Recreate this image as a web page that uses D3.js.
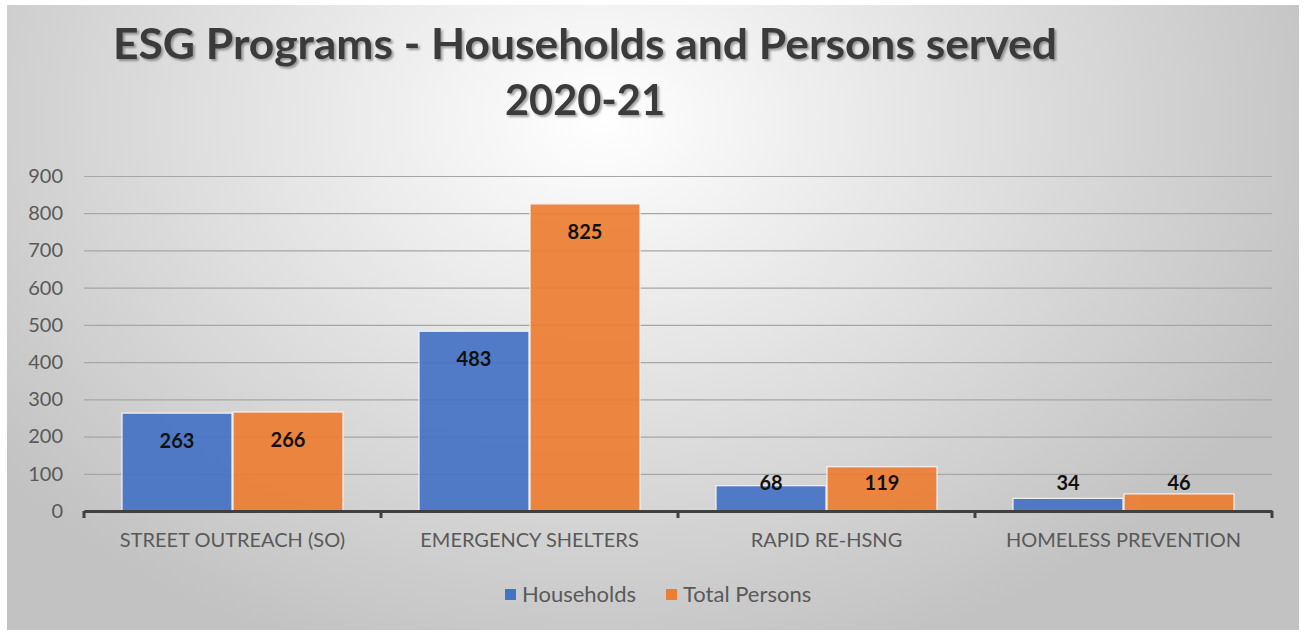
<!DOCTYPE html>
<html>
<head>
<meta charset="utf-8">
<script src="https://cdn.jsdelivr.net/npm/d3@7"></script>
<style>
  body { margin: 0; background: #fff; }
  svg { display: block; }
  text { font-family: Lato, "Open Sans", sans-serif; }
</style>
</head>
<body>
<svg width="1304" height="632"></svg>
<script>
var categories = ["STREET OUTREACH (SO)", "EMERGENCY SHELTERS", "RAPID RE-HSNG", "HOMELESS PREVENTION"];
var series = ["Households", "Total Persons"];
var households = [263, 483, 68, 34];
var totalPersons = [266, 825, 119, 46];
var yTicks = [0, 100, 200, 300, 400, 500, 600, 700, 800, 900];
var colors = ["#4472C4", "#ED7D31"];

var svg = d3.select("svg"),
    width = +svg.attr("width"),
    height = +svg.attr("height");

var defs = svg.append("defs");
var grad = defs.append("radialGradient")
    .attr("id", "bg")
    .attr("gradientUnits", "userSpaceOnUse")
    .attr("cx", 600).attr("cy", 120).attr("r", 760)
    .attr("gradientTransform", "translate(600,120) scale(1,0.75) translate(-600,-120)");
grad.append("stop").attr("offset", "0%").attr("stop-color", "#ffffff");
grad.append("stop").attr("offset", "100%").attr("stop-color", "#c2c2c2");

var shadow = defs.append("filter").attr("id", "tshadow")
    .attr("x", "-5%").attr("y", "-20%").attr("width", "110%").attr("height", "150%");
shadow.append("feDropShadow")
    .attr("dx", 2).attr("dy", 2).attr("stdDeviation", 1.2)
    .attr("flood-color", "#000").attr("flood-opacity", 0.35);

// chart frame
svg.append("rect")
    .attr("x", 7).attr("y", 5)
    .attr("width", 1292).attr("height", 625)
    .attr("fill", "url(#bg)");

// title
var title = svg.append("g").attr("filter", "url(#tshadow)");
title.append("text")
    .attr("x", 585).attr("y", 59)
    .attr("text-anchor", "middle")
    .attr("textLength", 944)
    .attr("lengthAdjust", "spacingAndGlyphs")
    .style("font-size", "42px").style("font-weight", "bold")
    .style("fill", "#3a3a3a")
    .text("ESG Programs - Households and Persons served");
title.append("text")
    .attr("x", 585).attr("y", 115)
    .attr("text-anchor", "middle")
    .attr("textLength", 160)
    .attr("lengthAdjust", "spacingAndGlyphs")
    .style("font-size", "42px").style("font-weight", "bold")
    .style("fill", "#3a3a3a")
    .text("2020-21");

var x0 = d3.scaleBand()
    .domain(categories)
    .range([84, 1272])
    .padding(0);

var x1 = d3.scaleBand()
    .domain(series)
    .range([37.5, x0.bandwidth() - 37.5])
    .padding(0);

var y = d3.scaleLinear()
    .domain([0, 900])
    .range([511, 176]);

// gridlines
svg.append("g")
    .attr("transform", "translate(84,0)")
    .call(d3.axisLeft(y).tickValues(yTicks).tickSize(-(1272 - 84)).tickFormat(""))
    .call(function(g) {
        g.select(".domain").remove();
        g.selectAll("line").attr("stroke", "#a6a6a6").attr("stroke-width", 1.2);
    });

// y tick labels
svg.append("g")
    .attr("transform", "translate(63,0)")
    .call(d3.axisLeft(y).tickValues(yTicks).tickSize(0).tickPadding(0))
    .call(function(g) {
        g.select(".domain").remove();
        g.selectAll("text")
            .style("font-size", "20px")
            .style("font-family", "Lato, sans-serif")
            .attr("fill", "#595959");
    });

var rows = categories.map(function(c, i) {
    return { cat: c, values: [households[i], totalPersons[i]] };
});

var groups = svg.append("g").selectAll("g")
    .data(rows)
    .enter().append("g")
    .attr("transform", function(d) { return "translate(" + x0(d.cat) + ",0)"; });

groups.selectAll("rect")
    .data(function(d) { return d.values.map(function(v, j) { return { s: series[j], v: v, j: j }; }); })
    .enter().append("rect")
    .attr("x", function(d) { return x1(d.s) + 0.5; })
    .attr("width", x1.bandwidth() - 1)
    .attr("y", function(d) { return y(d.v); })
    .attr("height", function(d) { return y(0) - y(d.v); })
    .attr("fill", function(d) { return colors[d.j]; })
    .attr("fill-opacity", 0.92)
    .attr("stroke", "#f4f4f4")
    .attr("stroke-width", 1.2);

groups.selectAll("text.lbl")
    .data(function(d) { return d.values.map(function(v, j) { return { s: series[j], v: v, j: j }; }); })
    .enter().append("text")
    .attr("class", "lbl")
    .attr("x", function(d) { return x1(d.s) + x1.bandwidth() / 2; })
    .attr("y", function(d) { return Math.min(y(d.v) + 28, y(0) - 28); })
    .attr("dy", "0.35em")
    .attr("text-anchor", "middle")
    .style("font-size", "20px").style("font-weight", "bold")
    .style("fill", "#111")
    .text(function(d) { return d.v; });

// x axis
var xAxis = svg.append("g")
    .attr("transform", "translate(0," + y(0) + ")")
    .call(d3.axisBottom(x0).tickSize(0).tickPadding(22).tickSizeOuter(0));
xAxis.select(".domain").attr("stroke", "#404040").attr("stroke-width", 3);
xAxis.selectAll("text")
    .style("font-size", "20px")
    .style("font-family", "Lato, sans-serif")
    .attr("fill", "#595959");

// category separator ticks
xAxis.selectAll("line.sep")
    .data(d3.range(categories.length + 1))
    .enter().append("line")
    .attr("class", "sep")
    .attr("x1", function(i) { return x0.range()[0] + i * x0.step(); })
    .attr("x2", function(i) { return x0.range()[0] + i * x0.step(); })
    .attr("y1", 0).attr("y2", 7)
    .attr("stroke", "#404040").attr("stroke-width", 3);

// legend
var legend = svg.append("g").attr("transform", "translate(0,594)");
var legendX = [505, 666];
series.forEach(function(s, i) {
    legend.append("rect")
        .attr("x", legendX[i]).attr("y", -5)
        .attr("width", 11).attr("height", 11)
        .attr("fill", colors[i]);
    legend.append("text")
        .attr("x", legendX[i] + 17).attr("y", 0)
        .attr("dy", "0.35em")
        .style("font-size", "22px")
        .attr("fill", "#595959")
        .text(s);
});
</script>
</body>
</html>
